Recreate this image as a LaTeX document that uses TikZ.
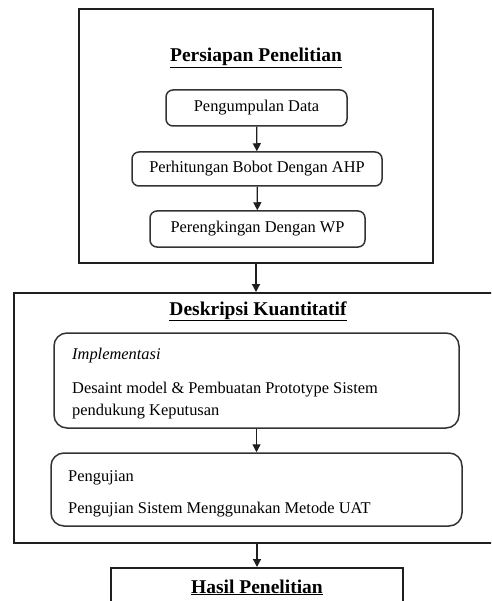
\documentclass[tikz,border=0pt]{standalone}
\usepackage{fontspec}
\setmainfont{Liberation Serif}
\usepackage{xcolor}
\usetikzlibrary{positioning, arrows.meta}

\begin{document}
\begin{tikzpicture}[x=1pt, y=-1pt,
    stage/.style={draw=black!88, line width=2pt, inner sep=0pt},
    step box/.style={draw=black!80, line width=1.5pt, rounded corners=7pt, inner sep=0pt, font=\fontsize{16.4}{19}\selectfont},
    wide box/.style={draw=black!80, line width=1.5pt, rounded corners=13pt, inner sep=0pt},
    heading/.style={font=\fontsize{19.5}{22}\selectfont\bfseries, anchor=base, inner sep=0pt},
    body/.style={font=\fontsize{16.4}{19}\selectfont, anchor=base west, inner sep=0pt},
    flow/.style={-{Triangle[length=8pt, width=8pt]}, draw=black!88, line width=1.3pt}]
                    \clip (0,0) rectangle (491,601);
                    \fill[white] (0,0) rectangle (491,601);

                    % tahap 1
                    \node[stage, minimum width=354pt, minimum height=254pt] (persiapan) at (256, 136) {};
                    \node[heading] (judul1) at (256, 62) {\underline{Persiapan Penelitian}};
                    \node[step box, minimum width=181pt, minimum height=36pt] (data) at (256.5, 108) {Pengumpulan Data};
                    \node[step box, minimum width=250pt, minimum height=34pt] (ahp) at (257, 169) {Perhitungan Bobot Dengan AHP};
                    \node[step box, minimum width=215pt, minimum height=36pt] (wp) at (257.5, 229) {Perengkingan Dengan WP};

                    % tahap 2
                    \node[stage, minimum width=490pt, minimum height=250pt] (deskripsi) at (259, 418) {};
                    \node[heading] (judul2) at (258, 315) {\underline{Deskripsi Kuantitatif}};
                    \node[wide box, minimum width=405pt, minimum height=95pt] (impl) at (256.5, 380.5) {};
                    \node[body] (implA) at (72, 359) {\itshape Implementasi};
                    \node[body] (implB) at (72, 393) {Desaint model \& Pembuatan Prototype Sistem};
                    \node[body] (implC) at (72, 415) {pendukung Keputusan};
                    \node[wide box, minimum width=411pt, minimum height=73pt] (uji) at (256.5, 489.5) {};
                    \node[body] (ujiA) at (68, 481) {Pengujian};
                    \node[body] (ujiB) at (68, 513) {Pengujian Sistem Menggunakan Metode UAT};

                    % tahap 3
                    \node[stage, minimum width=292pt, minimum height=80pt] (hasil) at (257, 608) {};
                    \node[heading] (judul3) at (257, 593) {\underline{Hasil Penelitian}};

                    \draw[flow] (data) -- (ahp);
                    \draw[flow] (ahp) -- (wp);
                    \draw[flow] (persiapan.south) -- (persiapan.south |- deskripsi.north);
                    \draw[flow] (impl) -- (uji);
                    \draw[flow] (hasil.north |- deskripsi.south) -- (hasil.north);
                \end{tikzpicture}
\end{document}
